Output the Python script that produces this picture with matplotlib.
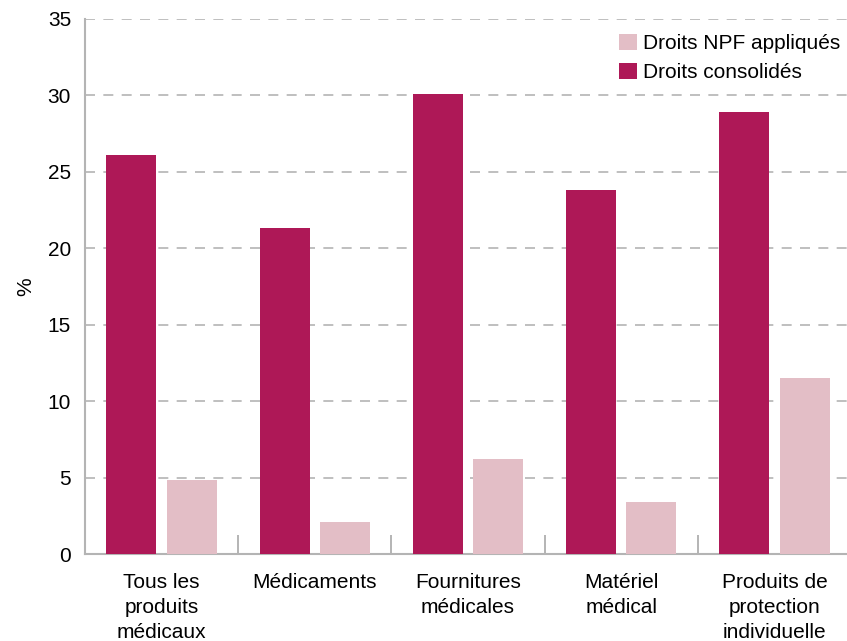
import numpy as np
import matplotlib
matplotlib.use("Agg")
import matplotlib.pyplot as plt

plt.rcParams['font.family'] = ['Liberation Sans', 'DejaVu Sans']

categories = ["Tous les\nproduits\nmédicaux", "Médicaments", "Fournitures\nmédicales",
              "Matériel\nmédical", "Produits de\nprotection\nindividuelle"]
consolides = [26.1, 21.3, 30.1, 23.8, 28.9]
npf = [4.85, 2.1, 6.2, 3.4, 11.5]

c_cons = '#ae1857'
c_npf = '#e3bec6'
grey = '#b4b4b4'
fs = 15

fig = plt.figure(figsize=(8.47, 6.41), dpi=100)
ax = fig.add_axes([85 / 847, 87 / 641, 766 / 847, 535 / 641])

x = np.arange(len(categories))
w = 0.327
off = 0.197
b_npf = ax.bar(x + off, npf, w, color=c_npf, label='Droits NPF appliqués', zorder=3)
b_cons = ax.bar(x - off, consolides, w, color=c_cons, label='Droits consolidés', zorder=3)

ax.set_xlim(-0.5, len(categories) - 0.5)
ax.set_ylim(0, 35)
ax.set_yticks(np.arange(0, 36, 5))
ax.yaxis.grid(True, linestyle=(0, (6, 5)), color=grey, linewidth=1.2, zorder=0)
ax.tick_params(axis='y', length=0, labelsize=fs, pad=10)

ax.set_xticks(x)
ax.set_xticklabels(categories, fontsize=fs, linespacing=1.4)
ax.tick_params(axis='x', length=0, pad=14)
ax.set_xticks(np.arange(0.5, len(categories) - 0.5, 1), minor=True)
ax.tick_params(axis='x', which='minor', direction='in', length=14, color='#a8a8a8', width=1.2)

for s in ['top', 'right']:
    ax.spines[s].set_visible(False)
for s in ['left', 'bottom']:
    ax.spines[s].set_color(grey)
    ax.spines[s].set_linewidth(1.5)

ax.set_ylabel('%', fontsize=fs, labelpad=9)

ax.legend(handles=[b_npf, b_cons], loc='upper right', bbox_to_anchor=(1.002, 0.996),
          frameon=False, fontsize=fs, handlelength=0.85, handleheight=0.85,
          handletextpad=0.3, labelspacing=0.45, borderaxespad=0.2)

fig.savefig('out.png', dpi=100)
